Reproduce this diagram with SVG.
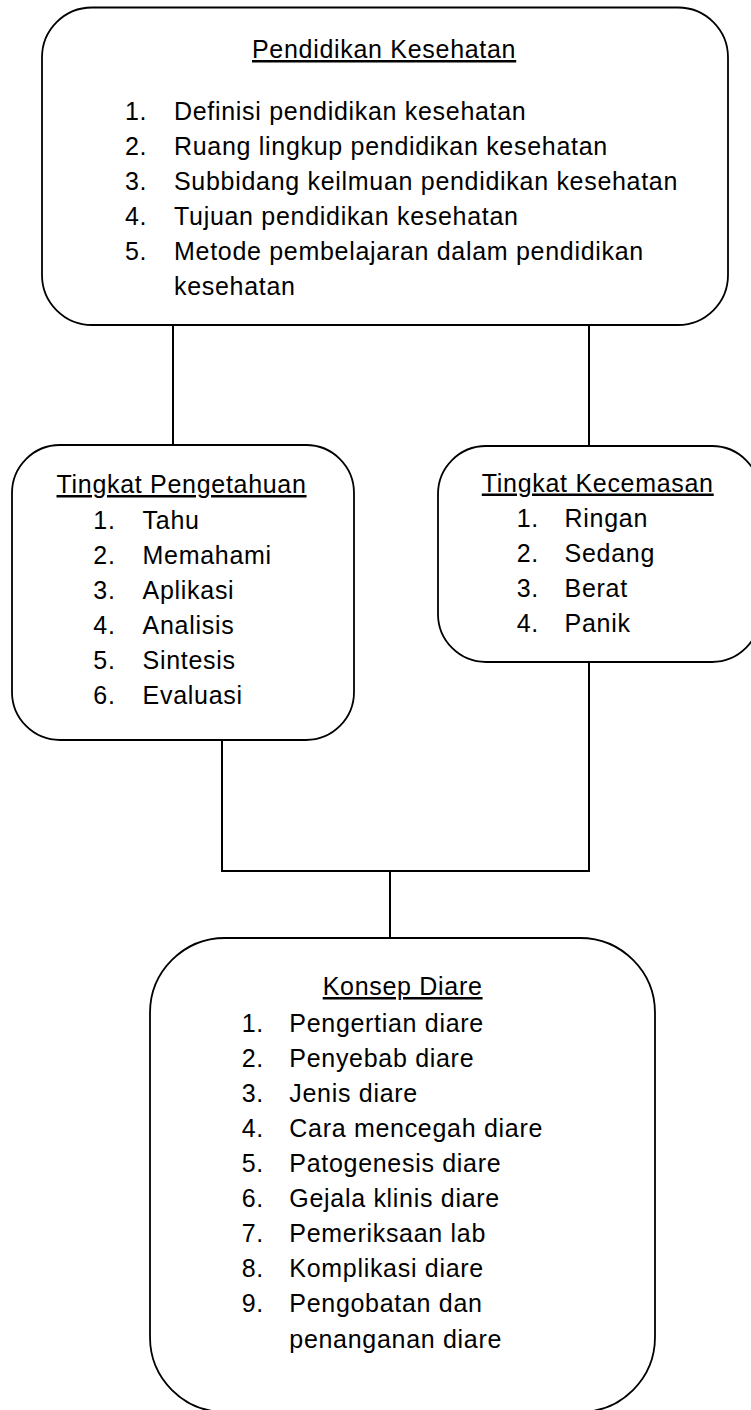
<svg xmlns="http://www.w3.org/2000/svg" width="751" height="1410" viewBox="0 0 751 1410">
<style>
.box{fill:#fff;stroke:#000;stroke-width:1.8}
.con line{stroke:#000;stroke-width:2}
text{font-family:"Liberation Sans",Arial,sans-serif;font-size:25px;letter-spacing:0.7px;fill:#000}
.t{text-decoration:underline}
</style>
<rect width="751" height="1410" fill="#fff"/>
<g id="connectors" class="con">
<line x1="173" y1="325" x2="173" y2="445"/>
<line x1="589" y1="325" x2="589" y2="446"/>
<line x1="222" y1="740" x2="222" y2="871"/>
<line x1="589" y1="662" x2="589" y2="871"/>
<line x1="221" y1="871" x2="590" y2="871"/>
<line x1="390" y1="871" x2="390" y2="938"/>
</g>
<g id="pendidikan-kesehatan">
<rect class="box" x="42" y="7.5" width="686" height="317.5" rx="50" ry="50"/>
<text class="t" x="252" y="58">Pendidikan Kesehatan</text>
<text x="125" y="119.5">1.</text><text x="174" y="119.5">Definisi pendidikan kesehatan</text>
<text x="125" y="154.5">2.</text><text x="174" y="154.5">Ruang lingkup pendidikan kesehatan</text>
<text x="125" y="189.5">3.</text><text x="174" y="189.5">Subbidang keilmuan pendidikan kesehatan</text>
<text x="125" y="224.5">4.</text><text x="174" y="224.5">Tujuan pendidikan kesehatan</text>
<text x="125" y="259.5">5.</text><text x="174" y="259.5">Metode pembelajaran dalam pendidikan</text>
<text x="174" y="294.5">kesehatan</text>
</g>
<g id="tingkat-pengetahuan">
<rect class="box" x="12" y="445" width="342" height="295" rx="48" ry="48"/>
<text class="t" x="56.5" y="493">Tingkat Pengetahuan</text>
<text x="93.3" y="528.5">1.</text><text x="142.6" y="528.5">Tahu</text>
<text x="93.3" y="563.5">2.</text><text x="142.6" y="563.5">Memahami</text>
<text x="93.3" y="598.5">3.</text><text x="142.6" y="598.5">Aplikasi</text>
<text x="93.3" y="633.5">4.</text><text x="142.6" y="633.5">Analisis</text>
<text x="93.3" y="668.5">5.</text><text x="142.6" y="668.5">Sintesis</text>
<text x="93.3" y="704">6.</text><text x="142.6" y="704">Evaluasi</text>
</g>
<g id="tingkat-kecemasan">
<rect class="box" x="438" y="446" width="322" height="216" rx="48" ry="48"/>
<text class="t" x="481.8" y="491.5">Tingkat Kecemasan</text>
<text x="516.7" y="526.5">1.</text><text x="564.6" y="526.5">Ringan</text>
<text x="516.7" y="561.5">2.</text><text x="564.6" y="561.5">Sedang</text>
<text x="516.7" y="596.5">3.</text><text x="564.6" y="596.5">Berat</text>
<text x="516.7" y="631.5">4.</text><text x="564.6" y="631.5">Panik</text>
</g>
<g id="konsep-diare">
<rect class="box" x="150" y="938" width="505" height="474" rx="75" ry="75"/>
<text class="t" x="322.7" y="995">Konsep Diare</text>
<text x="241.7" y="1031.5">1.</text><text x="289.3" y="1031.5">Pengertian diare</text>
<text x="241.7" y="1066.5">2.</text><text x="289.3" y="1066.5">Penyebab diare</text>
<text x="241.7" y="1101.5">3.</text><text x="289.3" y="1101.5">Jenis diare</text>
<text x="241.7" y="1136.5">4.</text><text x="289.3" y="1136.5">Cara mencegah diare</text>
<text x="241.7" y="1171.5">5.</text><text x="289.3" y="1171.5">Patogenesis diare</text>
<text x="241.7" y="1206.5">6.</text><text x="289.3" y="1206.5">Gejala klinis diare</text>
<text x="241.7" y="1241.5">7.</text><text x="289.3" y="1241.5">Pemeriksaan lab</text>
<text x="241.7" y="1276.5">8.</text><text x="289.3" y="1276.5">Komplikasi diare</text>
<text x="241.7" y="1312">9.</text><text x="289.3" y="1312">Pengobatan dan</text>
<text x="289.3" y="1347.5">penanganan diare</text>
</g>
</svg>
